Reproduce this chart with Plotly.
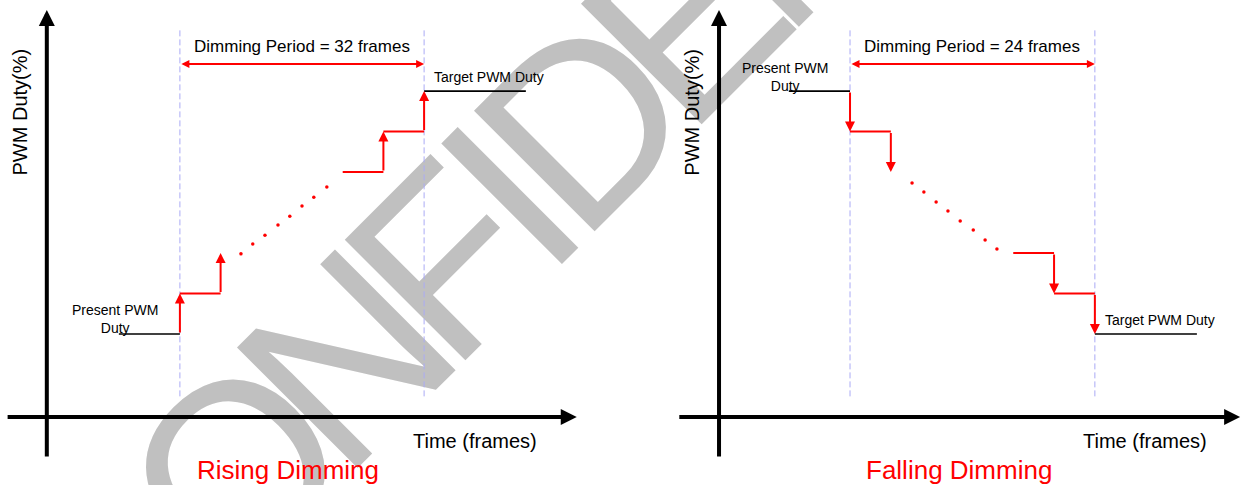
import math
import plotly.graph_objects as go

# units: x = frame steps (0 = start of dimming), y = duty steps (0 = lowest level shown)
titles = ["Rising Dimming", "Falling Dimming"]
period_labels = ["Dimming Period = 32 frames", "Dimming Period = 24 frames"]
period_start = [0, 0]
period_end = [6, 6]

# vertical step arrows: time, duty before, duty after
rise_arrow_t = [0, 1, 5, 6]
rise_arrow_from = [0, 1, 4, 5]
rise_arrow_to = [1, 2, 5, 6]
fall_arrow_t = [0, 1, 5, 6]
fall_arrow_from = [6, 5, 2, 1]
fall_arrow_to = [5, 4, 1, 0]

# horizontal red treads
tread_t0 = [0, 4, 5]
tread_t1 = [1, 5, 6]
rise_tread_lv = [1, 4, 5]
fall_tread_lv = [5, 2, 1]

# "..." between the first and last steps
rise_dot_t = [1.50, 1.79, 2.09, 2.41, 2.70, 3.00, 3.29, 3.61]
rise_dot_lv = [1.98, 2.22, 2.44, 2.69, 2.91, 3.16, 3.38, 3.63]
fall_dot_t = [1.52, 1.81, 2.11, 2.40, 2.70, 3.02, 3.31, 3.60]
fall_dot_lv = [3.73, 3.51, 3.26, 3.04, 2.79, 2.57, 2.32, 2.10]

# present / target duty lines (t0, t1, level)
rise_present = [-1.5, 0, 0]
rise_target = [6, 8.5, 6]
fall_present = [-1.5, 0, 6]
fall_target = [6, 8.5, 0]

# drawn axes
axis_t = [-3.27, -3.21]
axis_lv = -2.05
axis_x_start = [-4.27, -4.22]
axis_x_end = [9.75, 9.56]
axis_y_bottom = -3.06
axis_y_top = 8.0

# watermark letters and their advance widths (em)
wm_letters = list("CONFIDENTIAL")
wm_adv = [0.722, 0.778, 0.722, 0.611, 0.278, 0.722, 0.667, 0.722, 0.611, 0.278, 0.667, 0.556]

RED = "#ff0000"
FONT = "Liberation Sans, Arial, sans-serif"
W, H = 1243, 485

fig = go.Figure()
annotations = []


def segs(x0s, x1s, y0s, y1s):
    xs, ys = [], []
    for a, b, c, d in zip(x0s, x1s, y0s, y1s):
        xs += [a, b, None]
        ys += [c, d, None]
    return xs, ys


def arrow(xref, x0, y0, x1, y1, color, width, size, both=False):
    return dict(xref=xref, yref="y", axref=xref, ayref="y", x=x1, y=y1, ax=x0, ay=y0,
                text="", showarrow=True, arrowhead=2, startarrowhead=2,
                arrowsize=size, startarrowsize=size, arrowwidth=width,
                arrowcolor=color, standoff=0, startstandoff=0,
                arrowside="end+start" if both else "end")


def text(xref, x, y, s, size, color="black", angle=0):
    return dict(xref=xref, yref="y", x=x, y=y, text=s, showarrow=False,
                font=dict(family=FONT, size=size, color=color), textangle=angle,
                xanchor="center", yanchor="middle")


panels = [
    ("x", rise_arrow_t, rise_arrow_from, rise_arrow_to, rise_tread_lv, rise_dot_t, rise_dot_lv,
     rise_present, rise_target),
    ("x2", fall_arrow_t, fall_arrow_from, fall_arrow_to, fall_tread_lv, fall_dot_t, fall_dot_lv,
     fall_present, fall_target),
]

for i, (xr, at, af, ato, tlv, dt, dlv, pres, targ) in enumerate(panels):
    # dashed period markers
    xs, ys = segs([period_start[i], period_end[i]], [period_start[i], period_end[i]],
                  [7.5, 7.5], [-1.56, -1.56])
    fig.add_trace(go.Scatter(x=xs, y=ys, mode="lines", xaxis=xr, yaxis="y",
                             line=dict(color="#aaaaf5", width=1, dash="6px,3px"),
                             hoverinfo="skip"))
    # red treads
    xs, ys = segs(tread_t0, tread_t1, tlv, tlv)
    fig.add_trace(go.Scatter(x=xs, y=ys, mode="lines", xaxis=xr, yaxis="y",
                             line=dict(color=RED, width=2), hoverinfo="skip"))
    # present / target duty
    xs, ys = segs([pres[0], targ[0]], [pres[1], targ[1]], [pres[2], targ[2]], [pres[2], targ[2]])
    fig.add_trace(go.Scatter(x=xs, y=ys, mode="lines", xaxis=xr, yaxis="y",
                             line=dict(color="black", width=1.6), hoverinfo="skip"))
    # dots
    fig.add_trace(go.Scatter(x=dt, y=dlv, mode="markers", xaxis=xr, yaxis="y",
                             marker=dict(color=RED, size=3.5), hoverinfo="skip"))

    # step arrows
    for t, a, b in zip(at, af, ato):
        annotations.append(arrow(xr, t, a, t, b, RED, 2, 1))
    # period double arrow
    annotations.append(arrow(xr, period_start[i], 6.67, period_end[i], 6.67, RED, 2, 0.8, both=True))
    annotations.append(text(xr, (period_start[i] + period_end[i]) / 2, 7.1, period_labels[i], 17))

    # axes
    annotations.append(arrow(xr, axis_x_start[i], axis_lv, axis_x_end[i], axis_lv, "black", 4, 0.8))
    annotations.append(arrow(xr, axis_t[i], axis_y_bottom, axis_t[i], axis_y_top, "black", 4, 0.8))

    # labels
    annotations.append(text(xr, -1.6, pres[2] + 0.36, "Present PWM<br>Duty", 14))
    annotations.append(text(xr, 7.6, targ[2] + 0.35, "Target PWM Duty", 14))
    annotations.append(text(xr, axis_t[i] - 0.65, 5.48, "PWM Duty(%)", 20, angle=-90))
    annotations.append(text(xr, 7.24, -2.64, "Time (frames)", 20))
    annotations.append(text(xr, 2.66, -3.36, titles[i], 26, color=RED))

# diagonal watermark under the drawing, one letter per shape label (condensed spacing)
shapes = []
s_pos, unit, p_pos = -396.0, 208.0, 475.0
acc = 0.0
for ch, adv in zip(wm_letters, wm_adv):
    s = s_pos + (acc + adv / 2) * unit
    acc += adv
    px = (s + p_pos) / math.sqrt(2)
    py = (p_pos - s) / math.sqrt(2)
    cx, cy = px / W, 1 - py / H
    shapes.append(dict(type="rect", xref="paper", yref="paper",
                       x0=cx - 0.004, x1=cx + 0.004, y0=cy - 0.008, y1=cy + 0.008,
                       layer="below", line=dict(width=0), fillcolor="rgba(0,0,0,0)",
                       label=dict(text=ch, textangle=-45, textposition="middle center",
                                  font=dict(family=FONT, size=248, color="#c0c0c0"))))

fig.update_layout(
    width=W, height=H,
    margin=dict(l=0, r=0, t=0, b=0),
    paper_bgcolor="white", plot_bgcolor="rgba(0,0,0,0)",
    showlegend=False,
    xaxis=dict(domain=[0, 0.5], range=[-4.42, 10.85], visible=False),
    xaxis2=dict(domain=[0.5, 1], range=[-5.60, 9.63], visible=False, anchor="y"),
    yaxis=dict(domain=[0, 1], range=[-3.73, 8.25], visible=False),
    annotations=annotations,
    shapes=shapes,
)

fig.write_html("out.html", config={"displayModeBar": False},
               post_script="document.body.style.margin='0';document.body.style.overflow='hidden';")
